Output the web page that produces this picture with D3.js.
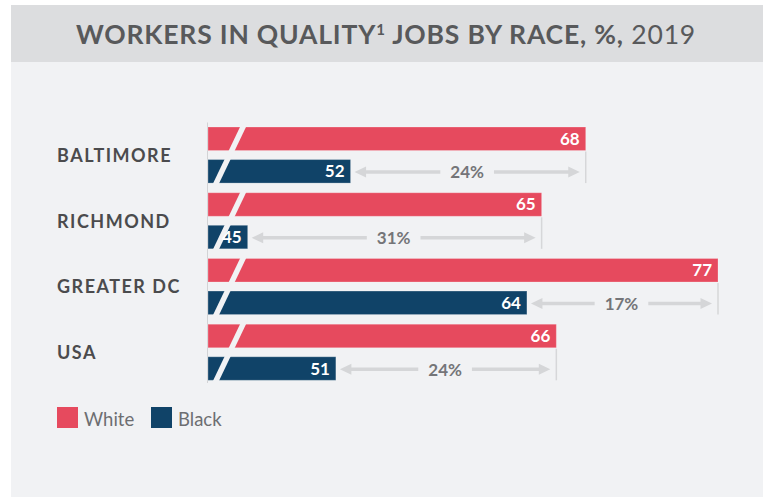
<!DOCTYPE html>
<html>
<head>
<meta charset="utf-8">
<script src="https://cdn.jsdelivr.net/npm/d3@7"></script>
<style>
  html, body { margin: 0; padding: 0; background: #ffffff; }
  svg { display: block; }
  text { font-family: Lato, "Open Sans", sans-serif; }
</style>
</head>
<body>
<svg id="chart" width="763" height="497"></svg>
<script>
// Share of workers in quality jobs, 2019
const categories = ["BALTIMORE", "RICHMOND", "GREATER DC", "USA"];
const seriesNames = ["White", "Black"];
const whiteValues = [68, 65, 77, 66];
const blackValues = [52, 45, 64, 51];
const gapLabels = ["24%", "31%", "17%", "24%"];
// value where the (broken) bar axis begins
const axisFloor = 42.3;

const colors = { White: "#e64a5e", Black: "#104368" };
const panelColor = "#f1f2f4";

const rows = categories.map((c, i) => ({
  category: c,
  White: whiteValues[i],
  Black: blackValues[i],
  gap: gapLabels[i]
}));

const svg = d3.select("#chart");

// panel + title band
svg.append("rect").attr("x", 11).attr("y", 5).attr("width", 752).attr("height", 492).attr("fill", panelColor);
svg.append("rect").attr("x", 11).attr("y", 5).attr("width", 752).attr("height", 57).attr("fill", "#dcdddf");

const title = svg.append("text")
  .attr("x", 386).attr("y", 43.5)
  .attr("text-anchor", "middle")
  .attr("fill", "#58595b")
  .style("font-size", "26.5px")
  .style("letter-spacing", "0.8px");
title.append("tspan").style("font-weight", 700).text("WORKERS IN QUALITY");
title.append("tspan").style("font-weight", 700).style("font-size", "15px").attr("dy", -9).text("1");
title.append("tspan").style("font-weight", 700).attr("dy", 9).text(" JOBS BY RACE, %,");
title.append("tspan").style("font-weight", 400).text(" 2019");

// scales
const x = d3.scaleLinear()
  .domain([axisFloor, d3.max(whiteValues)])
  .range([208, 718]);

const y = d3.scaleBand()
  .domain(categories)
  .range([127, 380.3])
  .paddingInner(0.147)
  .paddingOuter(0);

const ySub = d3.scaleBand()
  .domain(seriesNames)
  .range([0, y.bandwidth()])
  .paddingInner(0.277);

// axis line at the bar origin
svg.append("line")
  .attr("x1", 207.5).attr("x2", 207.5)
  .attr("y1", 122.5).attr("y2", 383)
  .attr("stroke", "#d2d3d5").attr("stroke-width", 1);

const groups = svg.append("g").selectAll("g")
  .data(rows)
  .join("g")
  .attr("transform", d => `translate(0,${y(d.category)})`);

// category labels
groups.append("text")
  .attr("x", 57)
  .attr("y", y.bandwidth() / 2 + 6.8)
  .attr("fill", "#4b4b4d")
  .style("font-size", "18px")
  .style("font-weight", 700)
  .style("letter-spacing", "1.5px")
  .text(d => d.category);

// bars
seriesNames.forEach(s => {
  groups.append("rect")
    .attr("x", x(axisFloor))
    .attr("y", ySub(s))
    .attr("width", d => x(d[s]) - x(axisFloor))
    .attr("height", ySub.bandwidth())
    .attr("fill", colors[s])
    .attr("stroke", "rgba(255,255,255,0.25)")
    .attr("stroke-width", 1);
});

// slanted break across both bars
const slope = 0.477;   // horizontal shift per vertical px
const breakX = x(axisFloor) + 35;
const breakW = 6;
groups.append("path")
  .attr("d", () => {
    const t = -1, b = y.bandwidth() + 1;
    const xt = breakX - slope * t;
    const xb = breakX - slope * b;
    return `M${xt - breakW / 2},${t}L${xt + breakW / 2},${t}L${xb + breakW / 2},${b}L${xb - breakW / 2},${b}Z`;
  })
  .attr("fill", panelColor);

// value labels
seriesNames.forEach(s => {
  groups.append("text")
    .attr("x", d => x(d[s]) - 6)
    .attr("y", ySub(s) + ySub.bandwidth() / 2 + 6)
    .attr("text-anchor", "end")
    .attr("fill", "#ffffff")
    .style("font-size", "17px")
    .style("font-weight", 700)
    .text(d => d[s]);
});

// reference tick at the White value, down through the Black row
groups.append("line")
  .attr("x1", d => x(d.White)).attr("x2", d => x(d.White))
  .attr("y1", ySub("White") + ySub.bandwidth() + 1)
  .attr("y2", ySub("Black") + ySub.bandwidth())
  .attr("stroke", "#d6d7d9").attr("stroke-width", 1.5);

// double-headed gap arrows
const arrowColor = "#d5d6d8";
const headL = 11.5, headH = 11, lineW = 3.5;
groups.each(function(d) {
  const g = d3.select(this);
  const cy = ySub("Black") + ySub.bandwidth() / 2 + 0.8;
  const x0 = x(d.Black) + 4;
  const x1 = x(d.White) - 6;
  const cx = (x0 + x1) / 2;

  const lbl = g.append("text")
    .attr("x", cx)
    .attr("y", cy + 6.2)
    .attr("text-anchor", "middle")
    .attr("fill", "#747578")
    .style("font-size", "17px")
    .style("font-weight", 700)
    .text(d.gap);
  const w = lbl.node().getComputedTextLength();
  const pad = 10;

  g.append("line")
    .attr("x1", x0 + headL - 1).attr("x2", cx - w / 2 - pad)
    .attr("y1", cy).attr("y2", cy)
    .attr("stroke", arrowColor).attr("stroke-width", lineW);
  g.append("line")
    .attr("x1", cx + w / 2 + pad).attr("x2", x1 - headL + 1)
    .attr("y1", cy).attr("y2", cy)
    .attr("stroke", arrowColor).attr("stroke-width", lineW);
  g.append("path")
    .attr("d", `M${x0},${cy}L${x0 + headL},${cy - headH / 2}L${x0 + headL},${cy + headH / 2}Z`)
    .attr("fill", arrowColor);
  g.append("path")
    .attr("d", `M${x1},${cy}L${x1 - headL},${cy - headH / 2}L${x1 - headL},${cy + headH / 2}Z`)
    .attr("fill", arrowColor);
});

// legend
const legend = svg.append("g").selectAll("g")
  .data(seriesNames)
  .join("g")
  .attr("transform", (d, i) => `translate(${[57, 151][i]},407)`);
legend.append("rect")
  .attr("width", 21).attr("height", 21)
  .attr("fill", d => colors[d]);
legend.append("text")
  .attr("x", 27).attr("y", 18.5)
  .attr("fill", "#6d6e71")
  .style("font-size", "18.5px")
  .text(d => d);
</script>
</body>
</html>
